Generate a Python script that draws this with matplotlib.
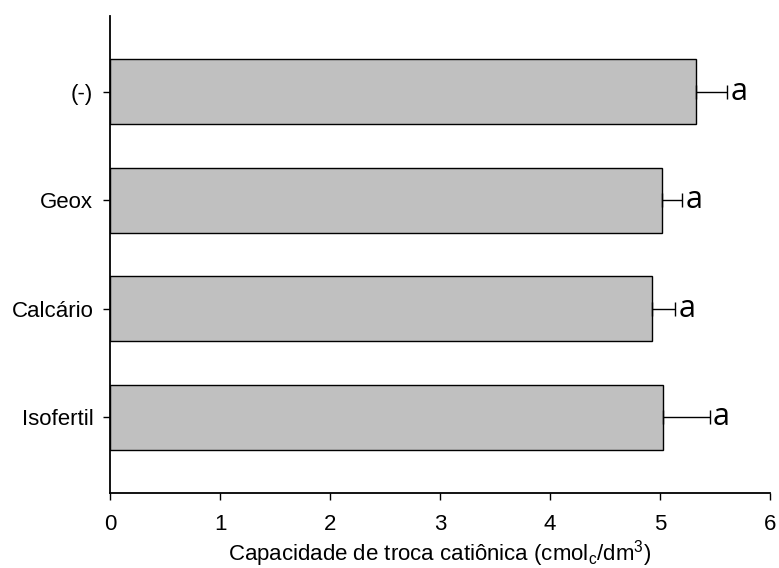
import matplotlib
matplotlib.use('Agg')
import matplotlib.pyplot as plt
import numpy as np

plt.rcParams['font.family'] = ['Liberation Sans', 'DejaVu Sans']

tratamentos = ['Isofertil', 'Calcário', 'Geox', '(-)']
ctc = [5.03, 4.93, 5.02, 5.33]
erro = [0.42, 0.21, 0.18, 0.28]
letras = ['a', 'a', 'a', 'a']

fig = plt.figure(figsize=(7.79, 5.68), dpi=100)
ax = fig.add_axes([0.1412, 0.132, 0.8473, 0.8398])

y = np.arange(len(tratamentos))
ax.barh(y, ctc, height=0.6, color='#c0c0c0', edgecolor='black', linewidth=1.0,
        xerr=[np.zeros(len(erro)), erro], error_kw=dict(ecolor='black', elinewidth=1.0,
                                                        capsize=5, capthick=1.0))

for yi, v, e, l in zip(y, ctc, erro, letras):
    ax.text(v + e + 0.03, yi, l, va='center', ha='left', fontsize=22,
            family=['Open Sans', 'DejaVu Sans'])

ax.set_xlim(0, 6)
ax.set_ylim(-0.7, 3.7)
ax.set_yticks(y)
ax.set_yticklabels(tratamentos)
ax.set_xticks(range(7))
ax.tick_params(axis='both', labelsize=16, direction='out', length=5, width=1.0)
ax.tick_params(axis='x', pad=10)
ax.tick_params(axis='y', pad=7)
ax.set_xlabel('Capacidade de troca catiônica (cmol$_\\mathregular{c}$/dm$^\\mathregular{3}$)',
              fontsize=16, labelpad=2)

ax.spines['top'].set_visible(False)
ax.spines['right'].set_visible(False)
ax.spines['left'].set_linewidth(1.3)
ax.spines['bottom'].set_linewidth(1.3)

fig.savefig('out.png', dpi=100)
